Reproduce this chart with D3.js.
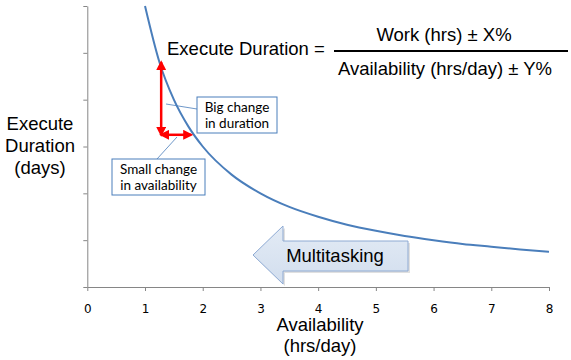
<!DOCTYPE html>
<html>
<head>
<meta charset="utf-8">
<script src="https://cdn.jsdelivr.net/npm/d3@7"></script>
<style>
  body { margin: 0; background: #fff; }
  svg { display: block; }
</style>
</head>
<body>
<div id="chart"></div>
<script>
// values
const availability = [1, 1.25, 1.5, 1.75, 2, 2.5, 3, 3.5, 4, 4.5, 5, 5.5, 6, 6.5, 7, 7.5, 8];
const duration = [6.0, 4.8, 4.0, 3.43, 3.0, 2.4, 2.0, 1.71, 1.5, 1.33, 1.2, 1.09, 1.0, 0.92, 0.86, 0.8, 0.75];
const xTicks = [0, 1, 2, 3, 4, 5, 6, 7, 8];
const yTicks = [0, 1, 2, 3, 4, 5, 6];

const width = 571, height = 360;

const svg = d3.select("#chart")
  .append("svg")
    .attr("width", width)
    .attr("height", height);

const x = d3.scaleLinear().domain([0, 8]).range([87.3, 549]);
const y = d3.scaleLinear().domain([0, 6]).range([287, 6]);

const defs = svg.append("defs");
defs.append("marker")
    .attr("id", "redhead")
    .attr("viewBox", "0 0 10 10")
    .attr("refX", 8).attr("refY", 5)
    .attr("markerWidth", 4).attr("markerHeight", 4)
    .attr("orient", "auto-start-reverse")
  .append("path")
    .attr("d", "M0,0 L10,5 L0,10 Z")
    .attr("fill", "#ff0000");

const grad = defs.append("linearGradient")
    .attr("id", "mtgrad")
    .attr("x1", 0).attr("y1", 0).attr("x2", 0).attr("y2", 1);
grad.append("stop").attr("offset", "0%").attr("stop-color", "#e3ebf5");
grad.append("stop").attr("offset", "100%").attr("stop-color", "#d2deee");

// axes
const xAxis = svg.append("g")
  .attr("transform", `translate(0,${y(0)})`)
  .call(d3.axisBottom(x).tickValues(xTicks).tickSize(4).tickSizeOuter(0).tickPadding(13));
const yAxis = svg.append("g")
  .attr("transform", `translate(${x(0)},0)`)
  .call(d3.axisLeft(y).tickValues(yTicks).tickSize(4).tickSizeOuter(0).tickFormat(""));

[xAxis, yAxis].forEach(a => {
  a.select(".domain").attr("stroke", "#868686").attr("stroke-width", 1);
  a.selectAll(".tick line").attr("stroke", "#868686");
});
xAxis.selectAll(".tick text")
  .attr("fill", "#000")
  .style("font-family", "'DejaVu Sans', sans-serif")
  .style("font-size", "12px");

// curve
const points = availability.map((a, i) => [a, duration[i]]);
const line = d3.line()
  .x(d => x(d[0]))
  .y(d => y(d[1]))
  .curve(d3.curveMonotoneX);

svg.append("path")
  .datum(points)
  .attr("d", line)
  .attr("fill", "none")
  .attr("stroke", "#4a7ebb")
  .attr("stroke-width", 2);

// red arrows
const arrowX = 1.28, arrowTop = 4.8, arrowBottom = 3.25, arrowRight = 1.8;
svg.append("line")
  .attr("x1", x(arrowX)).attr("y1", y(arrowTop))
  .attr("x2", x(arrowX)).attr("y2", y(arrowBottom))
  .attr("stroke", "#ff0000").attr("stroke-width", 2.5)
  .attr("marker-start", "url(#redhead)")
  .attr("marker-end", "url(#redhead)");
svg.append("line")
  .attr("x1", x(arrowX)).attr("y1", y(arrowBottom))
  .attr("x2", x(arrowRight)).attr("y2", y(arrowBottom))
  .attr("stroke", "#ff0000").attr("stroke-width", 2.5)
  .attr("marker-start", "url(#redhead)")
  .attr("marker-end", "url(#redhead)");

// callouts
const callouts = [
  { lines: ["Big change", "in duration"], box: [197, 97, 80, 36], from: [197, 109], to: [166, 104] },
  { lines: ["Small change", "in availability"], box: [112, 159, 93, 36], from: [157, 159], to: [177, 137] }
];
callouts.forEach(c => {
  svg.append("line")
    .attr("x1", c.from[0]).attr("y1", c.from[1])
    .attr("x2", c.to[0]).attr("y2", c.to[1])
    .attr("stroke", "#4a7ebb").attr("stroke-width", 0.8);
  svg.append("rect")
    .attr("x", c.box[0]).attr("y", c.box[1])
    .attr("width", c.box[2]).attr("height", c.box[3])
    .attr("fill", "#fff")
    .attr("stroke", "#4a7ebb").attr("stroke-width", 1);
  c.lines.forEach((t, i) => {
    svg.append("text")
      .attr("x", c.box[0] + c.box[2] / 2)
      .attr("y", c.box[1] + 15 + i * 16)
      .attr("text-anchor", "middle")
      .style("font-family", "Lato, 'Open Sans', sans-serif")
      .style("font-size", "13.5px")
      .text(t);
  });
});

// formula
const font = "'Liberation Sans', Arial, sans-serif";
svg.append("text")
  .attr("x", 167).attr("y", 55)
  .style("font-family", font).style("font-size", "18.5px")
  .text("Execute Duration =");
svg.append("line")
  .attr("x1", 334).attr("x2", 568).attr("y1", 51).attr("y2", 51)
  .attr("stroke", "#000").attr("stroke-width", 2);
svg.append("text")
  .attr("x", 444).attr("y", 41).attr("text-anchor", "middle")
  .style("font-family", font).style("font-size", "18.5px")
  .text("Work (hrs) ± X%");
svg.append("text")
  .attr("x", 445).attr("y", 75).attr("text-anchor", "middle")
  .style("font-family", font).style("font-size", "18.5px")
  .text("Availability (hrs/day) ± Y%");

// multitasking arrow
const mt = [[253, 255], [283, 226], [283, 241], [408, 241], [408, 271], [283, 271], [283, 284]];
svg.append("polygon")
  .attr("points", mt.map(p => [p[0] + 2, p[1] + 2].join(",")).join(" "))
  .attr("fill", "#000").attr("opacity", 0.12);
svg.append("polygon")
  .attr("points", mt.map(p => p.join(",")).join(" "))
  .attr("fill", "url(#mtgrad)")
  .attr("stroke", "#8eaad3").attr("stroke-width", 1);
svg.append("text")
  .attr("x", 335).attr("y", 262).attr("text-anchor", "middle")
  .style("font-family", font).style("font-size", "18.5px")
  .text("Multitasking");

// axis titles
const yTitle = ["Execute", "Duration", "(days)"];
yTitle.forEach((t, i) => {
  svg.append("text")
    .attr("x", 40).attr("y", 130 + i * 22)
    .attr("text-anchor", "middle")
    .style("font-family", font).style("font-size", "18.5px")
    .text(t);
});
const xTitle = ["Availability", "(hrs/day)"];
xTitle.forEach((t, i) => {
  svg.append("text")
    .attr("x", 320).attr("y", 331 + i * 21)
    .attr("text-anchor", "middle")
    .style("font-family", font).style("font-size", "18.5px")
    .text(t);
});
</script>
</body>
</html>
